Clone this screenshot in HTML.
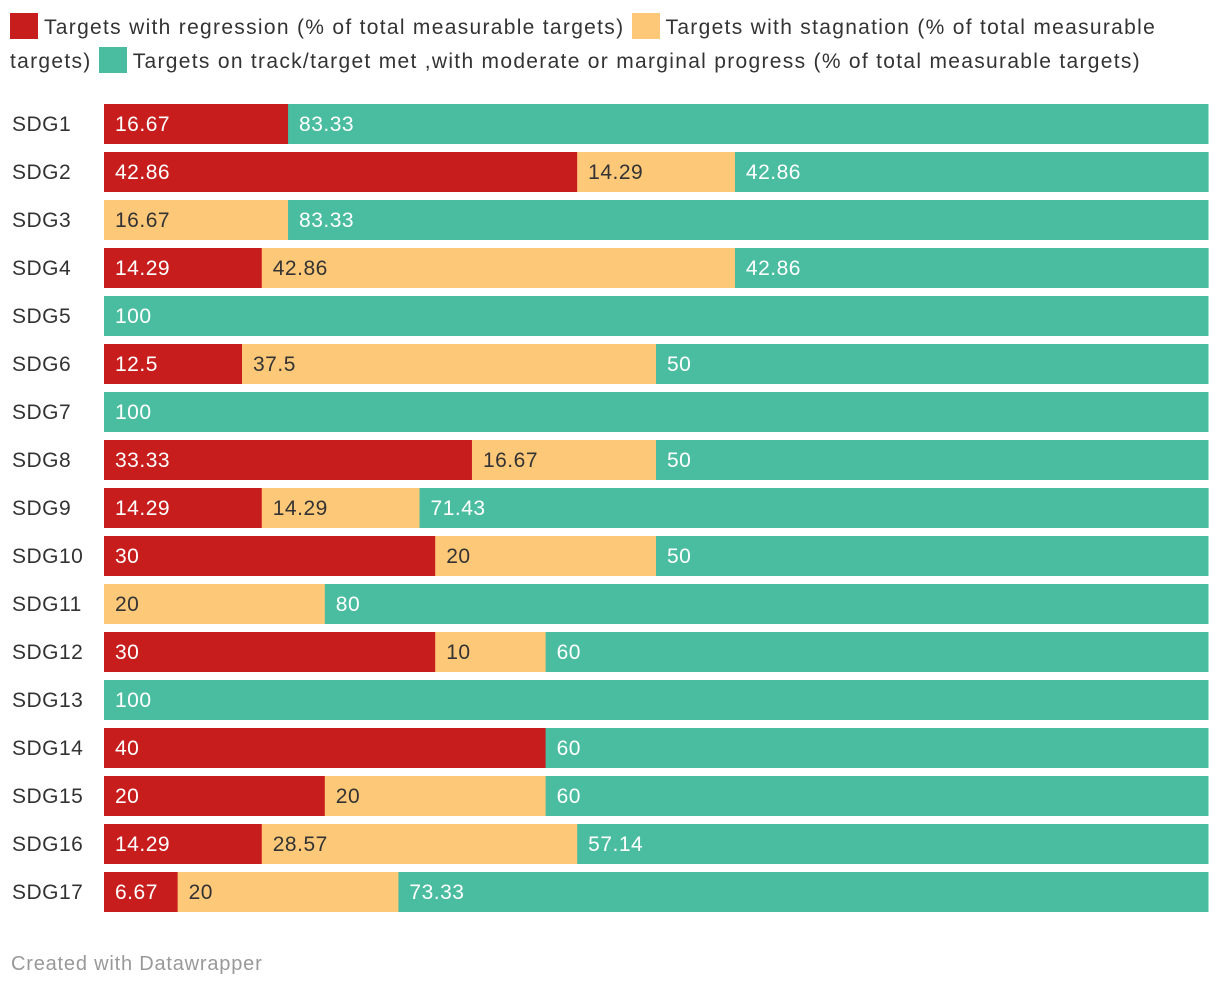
<!DOCTYPE html>
<html><head><meta charset="utf-8">
<style>
body{margin:0;background:#fff;font-family:"Liberation Sans",sans-serif;width:1220px;height:990px;overflow:hidden;position:relative}
.legend{position:absolute;left:10px;top:11px;width:1190px;font-size:21px;letter-spacing:1.3px;line-height:34px;color:#333}
.sw{display:inline-block;width:28px;height:26px;vertical-align:-5px;margin-right:6px}
.footer{position:absolute;left:11px;top:953px;font-size:20px;letter-spacing:0.8px;color:#999}
</style></head><body>
<div class="legend">
<span><span class="sw" style="background:#c71e1d"></span>Targets with regression (% of total measurable targets)</span>
<span><span class="sw" style="background:#fdc979"></span>Targets with stagnation (% of total measurable targets)</span>
<span><span class="sw" style="background:#4abda0"></span>Targets on track/target met ,with moderate or marginal progress (% of total measurable targets)</span>
</div>
<svg id="chart" width="1220" height="990" style="position:absolute;left:0;top:0"></svg>
<div class="footer">Created with Datawrapper</div>
<script>
const categories=["SDG1","SDG2","SDG3","SDG4","SDG5","SDG6","SDG7","SDG8","SDG9","SDG10","SDG11","SDG12","SDG13","SDG14","SDG15","SDG16","SDG17"];
const regression=[16.67,42.86,0,14.29,0,12.5,0,33.33,14.29,30,0,30,0,40,20,14.29,6.67];
const stagnation=[0,14.29,16.67,42.86,0,37.5,0,16.67,14.29,20,20,10,0,0,20,28.57,20];
const onTrack=[83.33,42.86,83.33,42.86,100,50,100,50,71.43,50,80,60,100,60,60,57.14,73.33];
const seriesNames=["regression","stagnation","on-track"];
const colors=["#c71e1d","#fdc979","#4abda0"];
const textColors=["#fff","#333","#fff"];
const svg=document.getElementById('chart');
const NS='http://www.w3.org/2000/svg';
const x0=104,x1=1208,top0=104,pitch=48,bh=40;
const xs=v=>x0+(x1-x0)*v/100;
const ys=i=>top0+i*pitch;
categories.forEach((c,i)=>{
  const t=document.createElementNS(NS,'text');
  
  
  t.setAttribute('x',12);t.setAttribute('y',ys(i)+bh/2+7);
  t.setAttribute('font-size','21');t.setAttribute('letter-spacing','0.5');t.setAttribute('fill','#333');
  t.textContent=c;svg.appendChild(t);
  const vals=[regression[i],stagnation[i],onTrack[i]];
  let acc=0;
  vals.forEach((v,k)=>{
    if(v<=0)return;
    const r=document.createElementNS(NS,'rect');
    
    
    r.setAttribute('x',xs(acc));r.setAttribute('y',ys(i));
    r.setAttribute('width',xs(acc+v)-xs(acc)+0.5);r.setAttribute('height',bh);
    r.setAttribute('fill',colors[k]);svg.appendChild(r);
    const l=document.createElementNS(NS,'text');
    
    
    l.setAttribute('x',xs(acc)+11);l.setAttribute('y',ys(i)+bh/2+7);
    l.setAttribute('font-size','21');l.setAttribute('letter-spacing','0.5');l.setAttribute('fill',textColors[k]);
    l.textContent=String(v);svg.appendChild(l);
    acc+=v;
  });
});
</script>
</body></html>
